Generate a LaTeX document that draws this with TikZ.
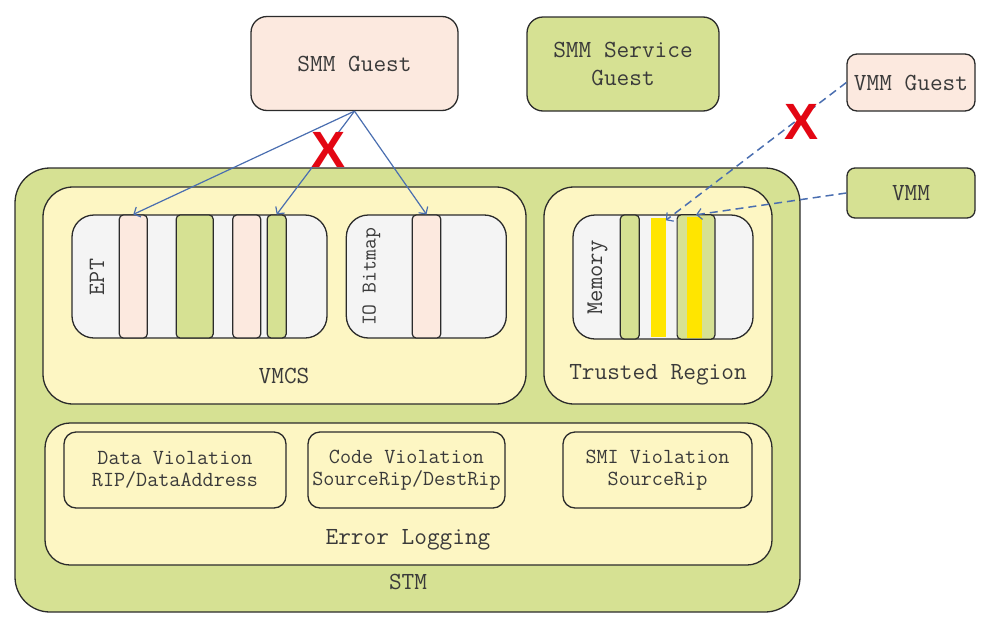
\documentclass[tikz,border=0pt]{standalone}
\usepackage{fontspec}
\newfontfamily\xfont{Liberation Sans}
\usetikzlibrary{arrows.meta}
\definecolor{peach}{HTML}{FCE9DF}
\definecolor{lgreen}{HTML}{D6E193}
\definecolor{lyellow}{HTML}{FDF6C3}
\definecolor{lgray}{HTML}{F4F4F4}
\definecolor{ybar}{HTML}{FFE500}
\definecolor{bordc}{HTML}{2B2B2B}
\definecolor{txtc}{HTML}{3A3A3A}
\definecolor{arrc}{HTML}{4A6EB0}
\definecolor{xred}{HTML}{E30613}
\tikzset{
  box/.style={draw=bordc, line width=1.3pt, inner sep=0pt, text=txtc, font=\ttfamily\fontsize{24.6}{28}\selectfont, align=center},
  bigbox/.style={box, rounded corners=#1},
  strip/.style={draw=bordc, line width=1.2pt, rounded corners=4pt, inner sep=0pt, minimum height=123pt},
  lbl/.style={text=txtc, inner sep=0pt, font=\ttfamily\fontsize{24.6}{28}\selectfont, align=center},
  smallf/.style={font=\ttfamily\fontsize{21.5}{22.5}\selectfont},
  arr/.style={draw=arrc, line width=1.2pt, -{Straight Barb[length=5pt,width=11pt,line width=1.2pt]}},
  darr/.style={arr, line width=1.5pt, dash pattern=on 8pt off 5pt},
  xmark/.style={text=xred, inner sep=0pt, font=\xfont\bfseries\fontsize{51}{51}\selectfont}
}
\begin{document}
\begin{tikzpicture}[x=1pt,y=-1pt]
\useasboundingbox (0,0) rectangle (991,627);
% top boxes
\node[bigbox=16pt, fill=peach, minimum width=207pt, minimum height=94pt] (smmg) at (354.5,63.5) {SMM Guest};
\node[bigbox=16pt, fill=lgreen, minimum width=192pt, minimum height=94pt] (smms) at (623,64) {SMM Service\\Guest};
\node[bigbox=10pt, fill=peach, minimum width=128pt, minimum height=57pt] (vmmg) at (911,82.5) {VMM Guest};
\node[bigbox=8pt, fill=lgreen, minimum width=128pt, minimum height=50pt] (vmm) at (911,193) {VMM};
% STM
\node[bigbox=35pt, fill=lgreen, minimum width=785pt, minimum height=444pt] (stm) at (407.5,390) {};
\node[lbl] (stml) at (408,582) {STM};
% VMCS
\node[bigbox=30pt, fill=lyellow, minimum width=483pt, minimum height=217pt] (vmcs) at (284.5,295.5) {};
\node[lbl] (vmcsl) at (284,376) {VMCS};
% Trusted region
\node[bigbox=30pt, fill=lyellow, minimum width=228pt, minimum height=217pt] (tr) at (658,295.5) {};
\node[lbl] (trl) at (658,375) {Trusted Region};
% Error logging
\node[bigbox=25pt, fill=lyellow, minimum width=727pt, minimum height=142pt] (el) at (408.5,494) {};
\node[lbl] (ell) at (408,540) {Error Logging};
\node[bigbox=12pt, fill=lyellow, minimum width=222pt, minimum height=76pt, smallf] (dv) at (175,470) {Data Violation\\RIP/DataAddress};
\node[bigbox=12pt, fill=lyellow, minimum width=197pt, minimum height=76pt, smallf] (cv) at (406.5,470) {Code Violation\\SourceRip/DestRip};
\node[bigbox=12pt, fill=lyellow, minimum width=189pt, minimum height=76pt, smallf] (sv) at (657.5,470) {SMI Violation\\SourceRip};
% EPT
\node[bigbox=22pt, fill=lgray, minimum width=255pt, minimum height=123pt] (ept) at (199.5,276.5) {};
\node[lbl, rotate=90, font=\ttfamily\fontsize{23.4}{26}\selectfont] (eptl) at (97,277) {EPT};
\node[strip, fill=peach, minimum width=28pt] (p1) at (133.3,276.5) {};
\node[strip, fill=lgreen, minimum width=37pt] (g1) at (194.7,276.5) {};
\node[strip, fill=peach, minimum width=28pt] (p2) at (246.7,276.5) {};
\node[strip, fill=lgreen, minimum width=19pt] (g2) at (276.7,276.5) {};
% IO Bitmap
\node[bigbox=22pt, fill=lgray, minimum width=160pt, minimum height=123pt] (iob) at (426.3,276.5) {};
\node[lbl, rotate=90, font=\ttfamily\fontsize{21.1}{24}\selectfont] (iobl) at (371.5,277) {IO Bitmap};
\node[strip, fill=peach, minimum width=28.5pt] (p3) at (426.5,276.5) {};
% Memory
\node[bigbox=22pt, fill=lgray, minimum width=180pt, minimum height=124pt] (mem) at (663,277) {};
\node[lbl, rotate=90, font=\ttfamily\fontsize{24}{26}\selectfont] (meml) at (597.5,277.5) {Memory};
\node[strip, fill=lgreen, minimum width=19pt, minimum height=124pt] (g3) at (629.8,277) {};
\node[fill=ybar, inner sep=0pt, minimum width=14.7pt, minimum height=119pt] (y1) at (658.3,277) {};
\node[fill=lgreen, inner sep=0pt, rounded corners=4pt, minimum width=37.4pt, minimum height=124pt] (g4) at (696,277) {};
\node[fill=ybar, inner sep=0pt, minimum width=15.3pt, minimum height=121pt] (y2) at (694.3,277.5) {};
\draw[bordc, line width=1.2pt, rounded corners=4pt] (g4.south west) rectangle (g4.north east);
% arrows
\draw[arr] (smmg.south) -- (p1.north);
\draw[arr] (smmg.south) -- (g2.north);
\draw[arr] (smmg.south) -- (p3.north);
\draw[darr] (vmmg.west) -- ([yshift=-3pt]y1.north east);
\draw[darr] (vmm.west) -- (g4.north);
% X marks
\node[xmark] (x1) at (329,150) {X};
\node[xmark] (x2) at (802,121.5) {X};
\end{tikzpicture}
\end{document}
